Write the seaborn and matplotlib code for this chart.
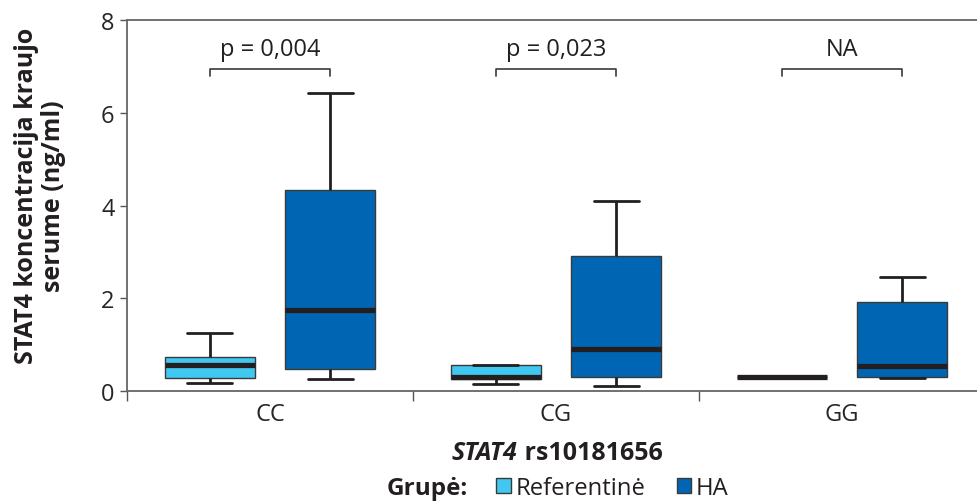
import numpy as np
import pandas as pd
import matplotlib
matplotlib.use("Agg")
import matplotlib.pyplot as plt
import seaborn as sns
from matplotlib.patches import Patch
from matplotlib.ticker import FixedLocator

# Genotypes and study groups
genotypes = ["CC", "CG", "GG"]
groups = ["Referentinė", "HA"]

# Five-number summaries (min, Q1, median, Q3, max) of serum STAT4, ng/ml
ref_cc = [0.17, 0.27, 0.56, 0.73, 1.24]
ref_cg = [0.15, 0.25, 0.31, 0.55, 0.57]
ref_gg = [0.30, 0.30, 0.30, 0.30, 0.30]
ha_cc = [0.26, 0.48, 1.75, 4.33, 6.42]
ha_cg = [0.10, 0.30, 0.91, 2.92, 4.10]
ha_gg = [0.27, 0.30, 0.53, 1.92, 2.46]

p_labels = ["p = 0,004", "p = 0,023", "NA"]
y_ticks = [0, 2, 4, 6, 8]

colors = ["#41C8F0", "#0066B3"]
ink = "#231F20"

rows = []
for g, summaries in zip(groups, [[ref_cc, ref_cg, ref_gg], [ha_cc, ha_cg, ha_gg]]):
    for gt, vals in zip(genotypes, summaries):
        for v in vals:
            rows.append({"genotype": gt, "group": g, "value": v})
df = pd.DataFrame(rows)

sns.set_theme(style="white")
plt.rcParams["font.family"] = ["Open Sans", "DejaVu Sans"]
plt.rcParams["text.color"] = ink

W, H = 977, 502
fig = plt.figure(figsize=(W / 100, H / 100), dpi=100)
ax = fig.add_axes([127 / W, 110 / H, 858 / W, 371 / H])

box_width = 0.84
sns.boxplot(
    data=df, x="genotype", y="value", hue="group",
    order=genotypes, hue_order=groups, palette=colors,
    width=box_width, gap=0.25, whis=np.inf, saturation=1,
    showfliers=False, legend=False, ax=ax,
    linecolor=ink, linewidth=1,
    boxprops=dict(edgecolor="#3a3a3a", linewidth=1),
    medianprops=dict(color=ink, linewidth=3.8, solid_capstyle="butt"),
    whiskerprops=dict(color=ink, linewidth=2),
    capprops=dict(color=ink, linewidth=2),
)

ax.set_xlim(-0.5, 2.5)
ax.set_ylim(0, 8)
ax.set_yticks(y_ticks)
ax.set_yticklabels([str(t) for t in y_ticks], fontsize=17)
ax.set_xticks(range(len(genotypes)))
ax.set_xticklabels(genotypes, fontsize=17)
ax.xaxis.set_minor_locator(FixedLocator([-0.5, 0.5, 1.5, 2.5]))
ax.tick_params(axis="x", which="major", length=0, pad=8)
ax.tick_params(axis="x", which="minor", length=7, width=1, color="#555555", direction="out", bottom=True)
ax.tick_params(axis="y", length=5, width=1, color="#555555", direction="out", left=True, pad=4)
ax.set_xlabel("")
ax.set_ylabel("")

for side in ["left", "bottom", "top", "right"]:
    ax.spines[side].set_color("#666666")
    ax.spines[side].set_linewidth(1.3)

# Significance brackets between the two groups of each genotype
offset = box_width / 4
for i, lab in enumerate(p_labels):
    x0, x1 = i - offset, i + offset
    ax.plot([x0, x0, x1, x1], [6.80, 6.94, 6.94, 6.80], color="#3a3a3a", lw=1.2, clip_on=False)
    ax.text(i, 7.38, lab, ha="center", va="center", fontsize=17, color=ink)

# Y axis title
fig.text(40 / W, 1 - 196 / H, "STAT4 koncentracija kraujo\nserume (ng/ml)", rotation=90,
         fontsize=18, fontweight="bold", ha="center", va="center", multialignment="center",
         linespacing=1.15)

# X axis title: italic gene name followed by the SNP id, centred as one line
xl_y = 1 - 454 / H
t1 = fig.text(0, xl_y, "STAT4", fontsize=18, fontweight="bold", fontstyle="italic",
              ha="left", va="center")
t2 = fig.text(0, xl_y, " rs10181656", fontsize=18, fontweight="bold", ha="left", va="center")
fig.canvas.draw()
renderer = fig.canvas.get_renderer()
w1 = t1.get_window_extent(renderer).width / W
w2 = t2.get_window_extent(renderer).width / W
start = 557 / W - (w1 + w2) / 2
t1.set_x(start)
t2.set_x(start + w1)

# Legend
fig.text(387 / W, 1 - 489 / H, "Grupė:", fontsize=17.5, fontweight="bold", ha="left", va="center")
handles = [Patch(facecolor=c, edgecolor="#3a3a3a", linewidth=1) for c in colors]
fig.legend(handles, groups, ncol=2, frameon=False, loc="center left",
           bbox_to_anchor=(496 / W, 1 - 489 / H), fontsize=17.2,
           handlelength=0.62, handleheight=0.62, handletextpad=0.2, columnspacing=1.3,
           borderaxespad=0, borderpad=0)

fig.savefig("out.png", dpi=100)
